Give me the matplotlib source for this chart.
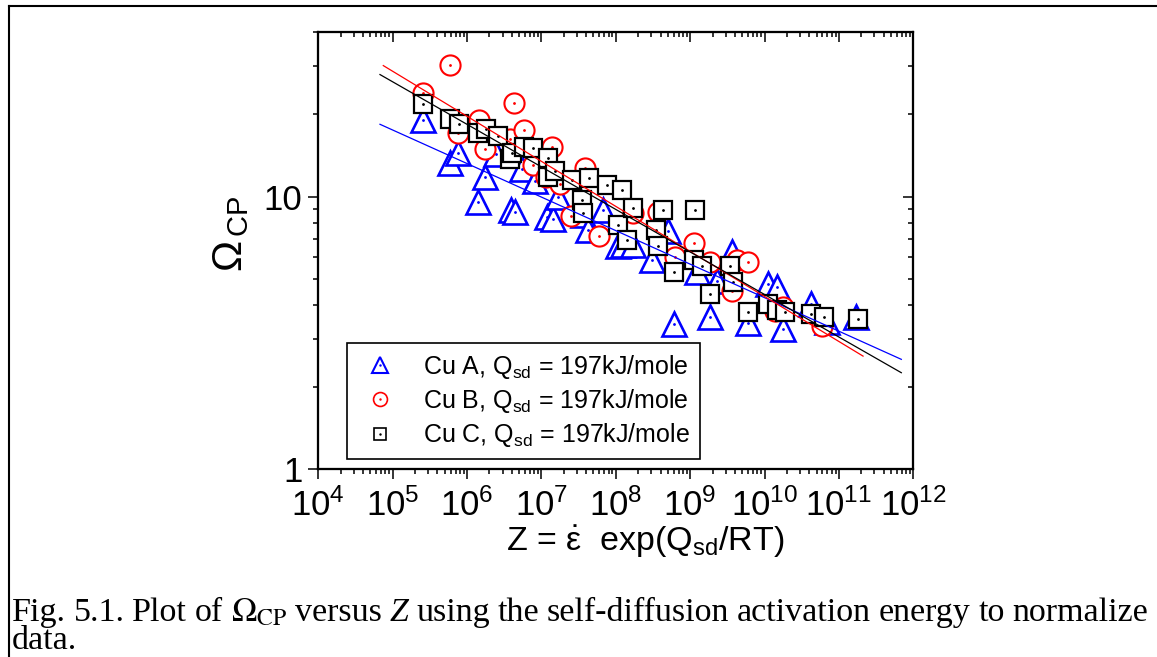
import matplotlib
matplotlib.use("Agg")
import matplotlib.pyplot as plt
from matplotlib.lines import Line2D
from matplotlib.legend_handler import HandlerTuple
from matplotlib.ticker import LogLocator, FixedLocator, NullFormatter
import numpy as np


# Cu A (blue triangles)
z_a = [2.55e5, 5.89e5, 7.55e5, 1.40e6, 1.74e6, 2.44e6, 3.89e6, 4.41e6, 5.47e6, 8.18e6,
       1.19e7, 1.43e7, 1.67e7, 3.61e7, 4.22e7, 6.70e7, 1.07e8, 1.24e8, 1.70e8, 3.05e8,
       5.01e8, 6.04e8, 1.23e9, 1.84e9, 2.28e9, 3.63e9, 5.96e9, 1.11e10, 1.46e10, 1.76e10,
       4.19e10, 6.84e10, 1.70e11]
omega_a = [19.1, 13.3, 14.5, 9.51, 11.8, 14.3, 8.89, 8.81, 12.6, 11.4,
           8.38, 8.24, 10.0, 8.59, 7.57, 8.89, 6.56, 6.67, 6.67, 5.87,
           7.45, 3.40, 5.31, 3.61, 4.89, 6.24, 3.45, 4.76, 4.65, 3.26,
           4.02, 3.48, 3.62]

# Cu B (red circles)
z_b = [2.55e5, 5.89e5, 7.55e5, 1.45e6, 1.74e6, 3.78e6, 4.27e6, 5.82e6, 7.69e6, 1.15e7,
       1.38e7, 1.77e7, 2.49e7, 3.84e7, 5.92e7, 1.70e8, 3.68e8, 6.22e8, 1.12e9, 1.84e9,
       3.63e9, 4.24e9, 5.96e9, 1.37e10, 1.76e10, 5.89e10]
omega_b = [24.0, 30.4, 17.1, 19.1, 14.9, 16.2, 22.1, 17.6, 13.0, 11.8,
           15.2, 11.1, 8.45, 12.7, 7.19, 8.73, 8.81, 5.98, 6.73, 5.73,
           4.49, 5.87, 5.73, 3.79, 3.95, 3.34]

# Cu C (black squares)
z_c = [2.55e5, 5.89e5, 7.78e5, 1.40e6, 1.79e6, 2.60e6, 3.78e6, 4.02e6, 5.82e6, 7.69e6,
       1.22e7, 1.22e7, 1.52e7, 2.57e7, 3.50e7, 3.61e7, 4.35e7, 7.59e7, 1.07e8, 1.21e8,
       1.41e8, 1.70e8, 3.46e8, 3.68e8, 4.30e8, 6.04e8, 1.12e9, 1.16e9, 1.44e9, 1.84e9,
       3.41e9, 3.75e9, 5.96e9, 1.11e10, 1.46e10, 1.87e10, 4.19e10, 6.27e10, 1.79e11]
omega_c = [21.9, 19.3, 18.5, 17.1, 17.7, 16.6, 13.7, 14.5, 15.2, 15.0,
           13.9, 11.8, 12.4, 11.5, 9.75, 8.73, 11.7, 11.0, 7.89, 10.6,
           6.95, 9.04, 7.57, 6.56, 8.89, 5.31, 5.87, 8.95, 5.55, 4.38,
           5.55, 4.84, 3.76, 4.02, 3.85, 3.76, 3.72, 3.61, 3.57]

# fitted lines (end points)
fit_z_a = [6.75e4, 6.9e11]
fit_omega_a = [18.4, 2.53]
fit_z_b = [7.48e4, 2.11e11]
fit_omega_b = [30.2, 2.60]
fit_z_c = [6.75e4, 6.9e11]
fit_omega_c = [28.0, 2.26]

labels = ["Cu A, Q$_{\\rm sd}$ = 197kJ/mole",
          "Cu B, Q$_{\\rm sd}$ = 197kJ/mole",
          "Cu C, Q$_{\\rm sd}$ = 197kJ/mole"]

caption_words = ["Fig.", "5.1.", "Plot", "of", r"$\Omega_{\mathrm{CP}}$", "versus", "Z", "using", "the",
                 "self-diffusion", "activation", "energy", "to", "normalize"]
caption_line2 = "data."


plt.rcParams["font.family"] = ["Liberation Sans", "DejaVu Sans"]
plt.rcParams["mathtext.fontset"] = "custom"
plt.rcParams["mathtext.rm"] = "Liberation Sans"
plt.rcParams["mathtext.it"] = "Liberation Sans:italic"
plt.rcParams["mathtext.bf"] = "Liberation Sans:bold"

W, H = 1157, 657
fig = plt.figure(figsize=(W / 100, H / 100), dpi=100)
ax = fig.add_axes([318.3 / W, 1 - 469.3 / H, 595 / W, 437 / H])

series = [(z_a, omega_a, "^", "blue", 17, 1.9),
          (z_b, omega_b, "o", "red", 14.5, 1.5),
          (z_c, omega_c, "s", "black", 12.5, 1.6)]

zo = 2
for z, om, m, c, ms, mew in series:
    for zi, oi in zip(z, om):
        ax.plot([zi], [oi], ls="none", marker=m, ms=ms, mfc="white", mec=c, mew=mew, zorder=zo)
        ax.plot([zi], [oi], ls="none", marker=".", ms=2, color=c, zorder=zo + 0.5)
        zo += 1

for fz, fo, c in [(fit_z_a, fit_omega_a, "blue"), (fit_z_b, fit_omega_b, "red"), (fit_z_c, fit_omega_c, "black")]:
    ax.plot(fz, fo, color=c, lw=0.9, zorder=zo + 10)

ax.set_xscale("log")
ax.set_yscale("log")
ax.set_xlim(1e4, 1e12)
ax.set_ylim(1, 40)


def setup_ticks(a):
    a.xaxis.set_major_locator(LogLocator(base=10, numticks=20))
    a.xaxis.set_minor_locator(LogLocator(base=10, subs=np.arange(2, 10), numticks=100))
    a.xaxis.set_minor_formatter(NullFormatter())
    a.yaxis.set_major_locator(FixedLocator([1, 10]))
    a.yaxis.set_minor_locator(FixedLocator([2, 3, 4, 5, 6, 7, 8, 9, 20, 30, 40]))
    a.yaxis.set_minor_formatter(NullFormatter())


setup_ticks(ax)
ax.set_yticks([1, 10], ["1", "10"])
ax.tick_params(which="both", direction="out", top=False, right=False, width=1.1, labelsize=25)
ax.tick_params(which="major", length=7.5)
ax.tick_params(which="minor", length=3.8)
ax.tick_params(axis="x", pad=6)
ax.tick_params(axis="y", pad=4)

axt = ax.twiny()
axt.set_xscale("log")
axt.set_xlim(1e4, 1e12)
axr = ax.twinx()
axr.set_yscale("log")
axr.set_ylim(1, 40)
for a in (axt, axr):
    setup_ticks(a)
axt.tick_params(which="both", direction="in", labeltop=False, width=1.1)
axt.tick_params(which="major", length=7.5)
axt.tick_params(which="minor", length=3.8)
axr.tick_params(which="both", direction="in", labelright=False, width=1.1)
axr.tick_params(which="major", length=7.5)
axr.tick_params(which="minor", length=3.8)
axr.yaxis.set_major_formatter(NullFormatter())

for a in (ax, axt, axr):
    for s in a.spines.values():
        s.set_linewidth(1.5)

ax.set_xlabel(r"Z = $\dot{\mathrm{\varepsilon}}$  exp(Q$_{\rm sd}$/RT)", fontsize=24.5)
ax.xaxis.set_label_coords(0.549, -0.125)
ax.set_ylabel(r"$\Omega_{\,\mathrm{CP}}$", fontsize=30)
ax.yaxis.set_label_coords(-0.113, 0.54)

handles = []
for m, c, ms, mew in [("^", "blue", 11, 1.5), ("o", "red", 10, 1.2), ("s", "black", 9, 1.2)]:
    h1 = Line2D([], [], ls="none", marker=m, ms=ms, mfc="white", mec=c, mew=mew)
    h2 = Line2D([], [], ls="none", marker=".", ms=1.5, color=c)
    handles.append((h1, h2))

leg = ax.legend(handles, labels, handler_map={tuple: HandlerTuple(ndivide=1)},
                loc="lower left", bbox_to_anchor=(0.0477, 0.0229), borderaxespad=0,
                fontsize=18, fancybox=False, edgecolor="black", framealpha=1,
                borderpad=0.4, handlelength=1.9, handletextpad=0.76, labelspacing=0.25)
leg.get_frame().set_linewidth(1.2)
leg.set_zorder(zo + 20)

# outer frame
fig.add_artist(Line2D([9 / W, 9 / W], [0, 1 - 6 / H], transform=fig.transFigure, color="black", lw=1.5))
fig.add_artist(Line2D([9 / W, 1], [1 - 6 / H, 1 - 6 / H], transform=fig.transFigure, color="black", lw=1.5))

# caption, first line justified
cap_kw = dict(family="Liberation Serif", fontsize=24.5, math_fontfamily="stix", va="baseline")
texts = []
for w in caption_words:
    style = "italic" if w == "Z" else "normal"
    texts.append(fig.text(0, 1 - 621 / H, w, style=style, **cap_kw))
fig.canvas.draw()
r = fig.canvas.get_renderer()
widths = [t.get_window_extent(r).width for t in texts]
x_left, x_right = 12.0, 1148.0
gap = (x_right - x_left - sum(widths)) / (len(texts) - 1)
x = x_left
for t, wd in zip(texts, widths):
    t.set_x(x / W)
    x += wd + gap
fig.text(x_left / W, 1 - 649 / H, caption_line2, **cap_kw)

fig.savefig("out.png", dpi=100)
